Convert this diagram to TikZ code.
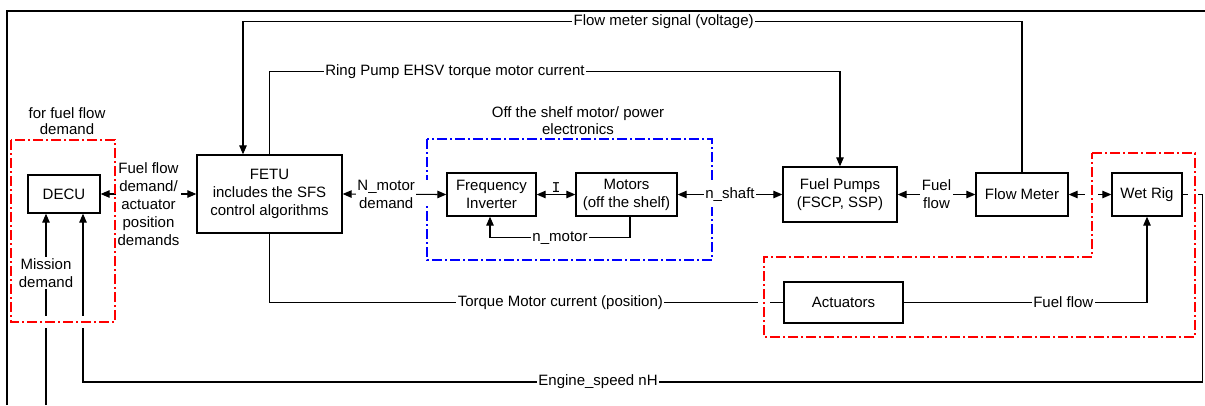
\documentclass[tikz,border=0pt]{standalone}
\usepackage{fontspec}
\setmainfont{Liberation Sans}
\newfontfamily\monofont{Liberation Mono}
\usetikzlibrary{arrows.meta}
\begin{document}
\begin{tikzpicture}[x=1pt,y=-1pt,
  font=\fontsize{15}{18}\selectfont,
  >={Triangle[length=9pt,width=7.5pt]},
  box/.style={draw, line width=1.3pt, align=center, inner sep=0pt},
  conn/.style={line width=1.1pt},
  lbl/.style={fill=white, inner sep=1.5pt, align=center},
  redbox/.style={draw=red, line width=1.1pt, dash pattern=on 10pt off 3pt on 2pt off 3pt},
  bluebox/.style={draw=blue, line width=1.1pt, dash pattern=on 10pt off 3pt on 2pt off 3pt},
  frame/.style={line width=2pt}]
\useasboundingbox (0,0) rectangle (1205,405);

% frame
\draw[frame] (7,405) -- (7,11) -- (1205,11);

% boxes
\node[box, minimum width=72pt, minimum height=38pt] (decu) at (64,194) {DECU};
\node[box, minimum width=145pt, minimum height=78pt] (fetu) at (269.5,194) {FETU\\includes the SFS\\control algorithms};
\node[box, minimum width=89pt, minimum height=43pt] (fi) at (491.5,194.5) {Frequency\\Inverter};
\node[box, minimum width=101pt, minimum height=43pt] (motors) at (626.5,194.5) {Motors\\(off the shelf)};
\node[box, minimum width=114pt, minimum height=55pt] (pumps) at (840,194.5) {Fuel Pumps\\(FSCP, SSP)};
\node[box, minimum width=92pt, minimum height=43pt] (flow) at (1022,194.5) {Flow Meter};
\node[box, minimum width=70pt, minimum height=43pt] (wet) at (1147,194.5) {Wet Rig};
\node[box, minimum width=119pt, minimum height=41pt] (act) at (843.5,302.5) {Actuators};

% blue group box with gaps where lines cross
\draw[bluebox] (427,139) rectangle (712,260);
\fill[white] (422,180) rectangle (432,206);
\fill[white] (707,180) rectangle (717,207);

% connectors
\draw[conn,<->] (decu.east) -- node[lbl,yshift=-10pt]{Fuel flow\\demand/\\actuator\\position\\demands} (fetu.west);
\draw[conn,<->] (fetu.east) -- node[lbl,pos=0.42]{N\_motor\\demand} (fi.west);
\draw[conn,<->] (fi.east) -- node[above,inner sep=1pt]{\monofont I} (motors.west);
\draw[conn,->] ([xshift=3.5pt]motors.south) -- ++(0,21) -| node[lbl,pos=0.25]{n\_motor} ([xshift=-1.5pt]fi.south);
\draw[conn,<->] (motors.east) -- node[lbl]{n\_shaft} (pumps.west);
\draw[conn,<->] (pumps.east) -- node[lbl]{Fuel\\flow} (flow.west);
\draw[conn,<->] (flow.east) -- (wet.west);
\draw[conn,->] (flow.north) -- ++(0,-151) -| node[lbl,pos=0.23]{Flow meter signal (voltage)} ([xshift=-26.5pt]fetu.north);
\draw[conn,->] (fetu.north) -- ++(0,-83) -| node[lbl,pos=0.1625]{Ring Pump EHSV torque motor current} (pumps.north);
\draw[conn] (fetu.south) |- node[lbl,pos=0.783]{Torque Motor current (position)} (act.west);
\draw[conn,->] (act.east) -| node[lbl,pos=0.328]{Fuel flow} (wet.south);
\draw[conn,->] (wet.east) -- ++(20,0) -- ++(0,187.5) -| node[lbl,pos=0.27]{Engine\_speed nH} ([xshift=19pt]decu.south);
\coordinate (mis) at (46,405);
\draw[conn,->] (mis) -- node[lbl,pos=0.69]{Mission\\demand} ([xshift=-18pt]decu.south);

% gaps where lines cross the red boxes
\fill[white] (40,316) rectangle (52,328);
\fill[white] (77,316) rectangle (89,328);
\fill[white] (758,297) rectangle (770,309);
\fill[white] (1085,189) rectangle (1098,200);
\fill[white] (1188,189) rectangle (1198,200);

% red group boxes
\draw[redbox] (11,140) rectangle (115,322);
\draw[redbox] (1092,153) -- (1195,153) -- (1195,337) -- (764,337) -- (764,257) -- (1092,257) -- cycle;

% group captions
\node[align=center, font=\fontsize{15}{16}\selectfont] (cap1) at (67,121) {for fuel flow\\demand};
\node[align=center, font=\fontsize{15}{17}\selectfont] (cap2) at (578,121) {Off the shelf motor/ power\\electronics};
\end{tikzpicture}
\end{document}
